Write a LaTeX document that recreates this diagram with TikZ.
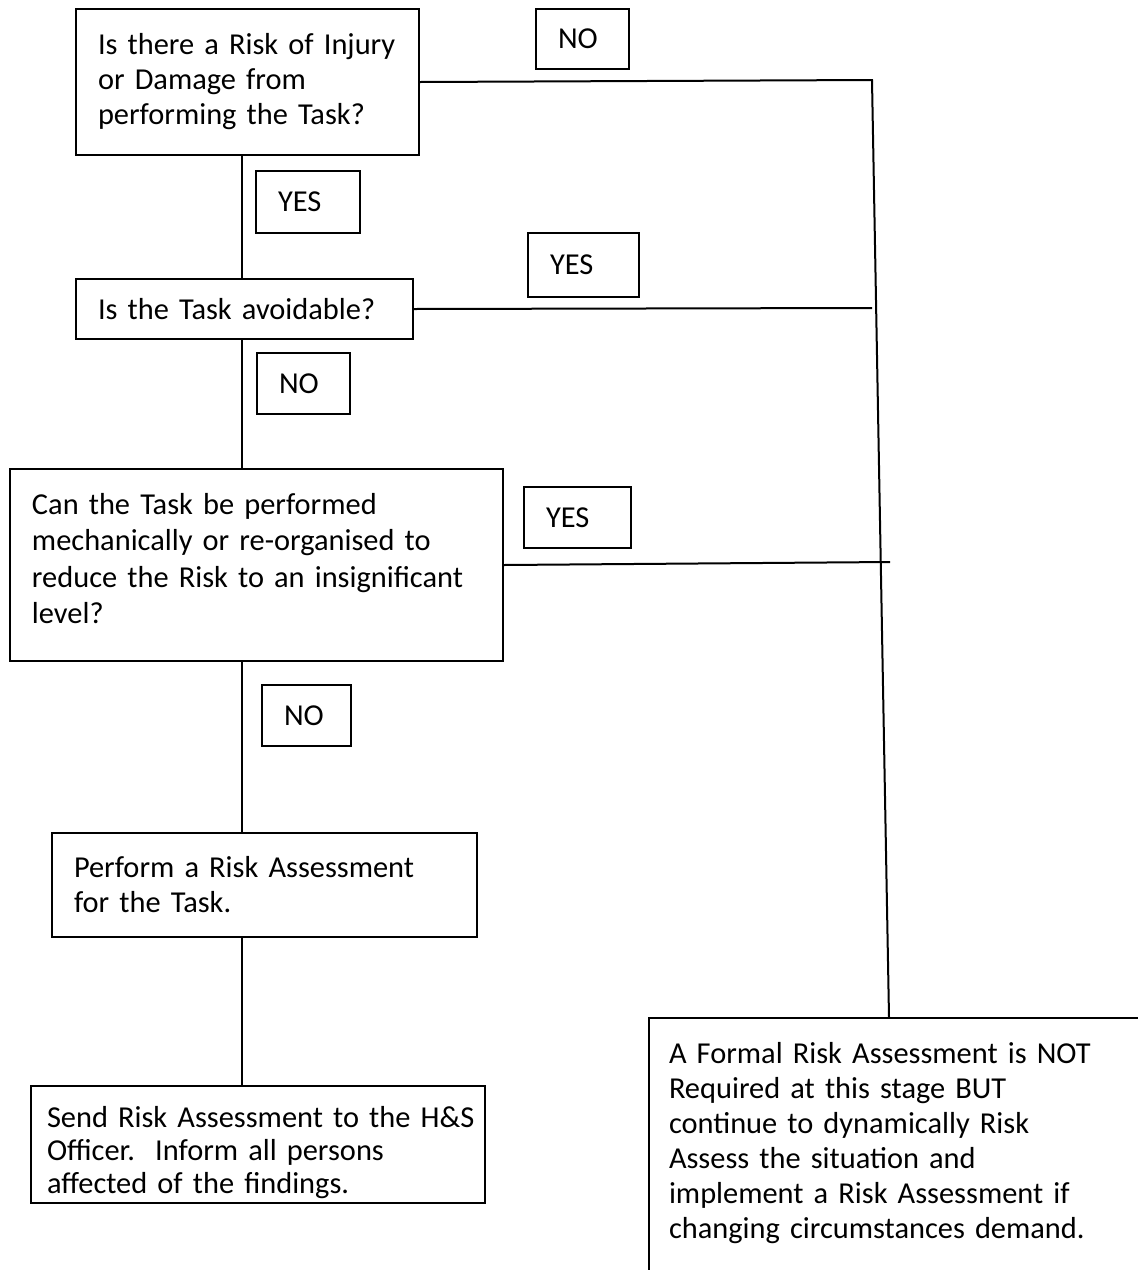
\documentclass[tikz,border=0pt]{standalone}
\usepackage{fontspec}
\setmainfont{Carlito}
\usepackage{tikz}

\begin{document}
\begin{tikzpicture}[x=0.5pt, y=-0.5pt, line width=1pt,
    box/.style={draw, anchor=north west, align=left, inner xsep=11pt, inner ysep=0pt,
                font=\fontsize{15.2pt}{17.5pt}\selectfont},
    answer/.style={box}]
            \useasboundingbox (0,0) rectangle (1138,1270);
            \clip (0,0) rectangle (1138,1270);

            % question boxes
            \node[box, text width=149.5pt, minimum height=73pt] (risk) at (75,8)
                {Is there a Risk of Injury\\or Damage from\\performing the Task?};
            \node[box, text width=146.5pt, minimum height=30pt] (avoid) at (75,278)
                {Is the Task avoidable?};
            \node[box, text width=224.5pt, text height=22.5pt, text depth=73.5pt,
                  font=\fontsize{15.2pt}{18.3pt}\selectfont] (mech) at (9,468)
                {Can the Task be performed\\mechanically or re-organised to\\reduce the Risk to an insignificant\\level?};
            \node[box, text width=190.5pt, minimum height=52pt] (perform) at (51,832)
                {Perform a Risk Assessment\\for the Task.};
            \node[box, inner xsep=8pt, text width=211pt, text height=20.5pt, text depth=38pt,
                  font=\fontsize{15.2pt}{16.5pt}\selectfont] (send) at (30,1085)
                {\mbox{Send Risk Assessment to the H\&S}\\Officer.\ \ Inform all persons\\affected of the findings.};
            \node[box, inner xsep=10pt, inner ysep=12pt, text width=240pt] (formal) at (648,1017)
                {A Formal Risk Assessment is NOT\\Required at this stage BUT\\continue to dynamically Risk\\Assess the situation and\\implement a Risk Assessment if\\changing circumstances demand.\\~};

            % answers
            \node[answer, text width=24.5pt, minimum height=30pt] (no1) at (535,8) {NO};
            \node[answer, text width=30pt, minimum height=31pt] (yes1) at (255,170) {YES};
            \node[answer, text width=33.5pt, minimum height=32pt] (yes2) at (527,232) {YES};
            \node[answer, text width=24.5pt, minimum height=30.5pt] (no2) at (256,352) {NO};
            \node[answer, text width=31.5pt, minimum height=30.5pt] (yes3) at (523,486) {YES};
            \node[answer, text width=22.5pt, minimum height=30.5pt] (no3) at (261,684) {NO};

            \coordinate (trunk) at (242,0);
            \coordinate (bend) at (872,80);
            \coordinate (foot) at (889,0);
            \coordinate (end2) at (872,308);
            \coordinate (end3) at (890,562);

            \draw (risk.south -| trunk) to (avoid.north -| trunk);
            \draw (avoid.south -| trunk) to (mech.north -| trunk);
            \draw (mech.south -| trunk) to (perform.north -| trunk);
            \draw (perform.south -| trunk) to (send.north -| trunk);

            \draw (risk.east) -- (bend) -- (formal.north -| foot);
            \draw (avoid.east) -- (end2);
            \draw (mech.east) -- (end3);
        \end{tikzpicture}
\end{document}
